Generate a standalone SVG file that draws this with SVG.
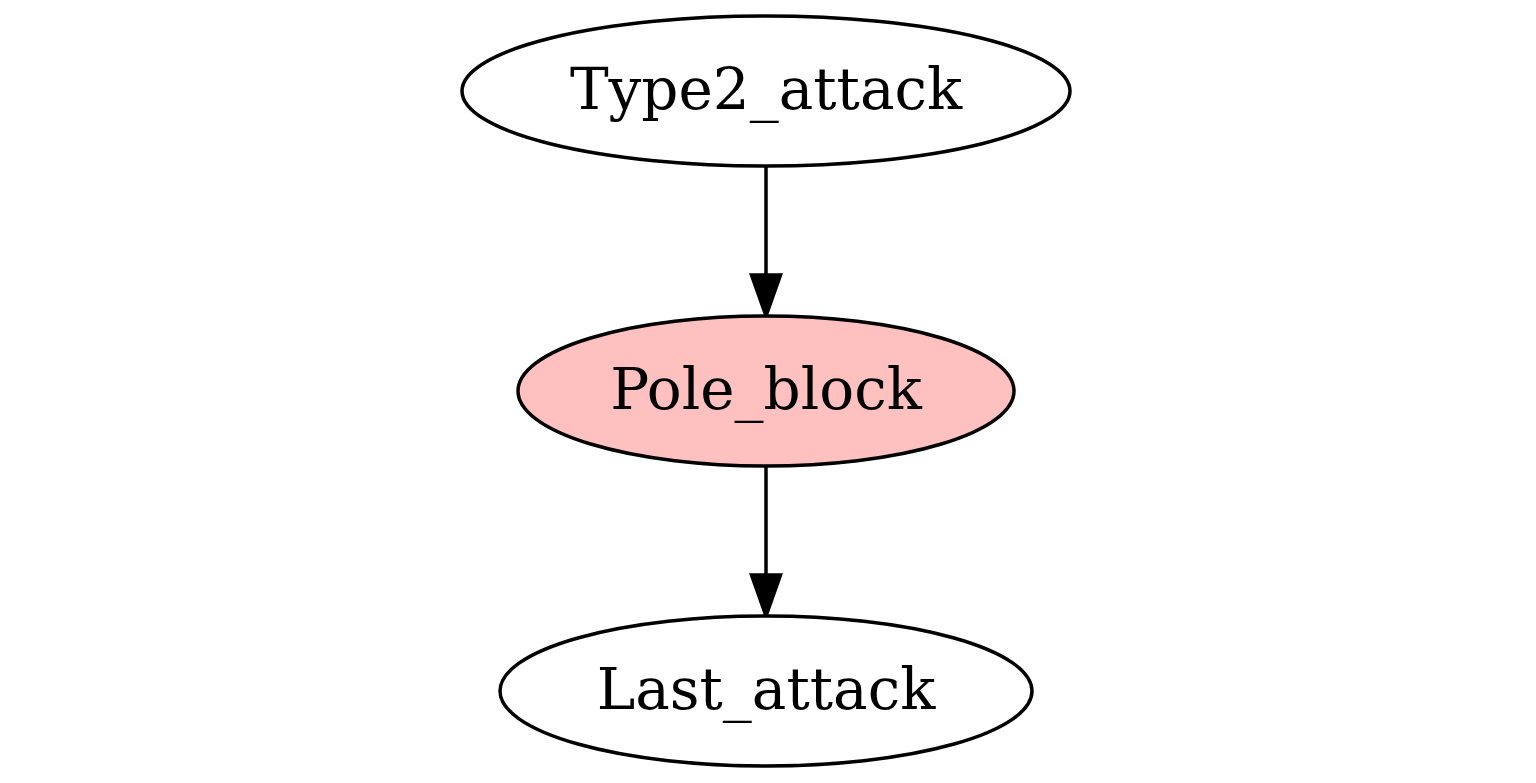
<svg xmlns="http://www.w3.org/2000/svg" width="1536" height="783" viewBox="0 0 1536 783">
<style>
.node ellipse{stroke:#000;stroke-width:3.5}
.node text{font-family:"DejaVu Serif","Liberation Serif",serif;font-size:58px;text-anchor:middle;fill:#000}
.edge line{stroke:#000;stroke-width:3.5}
.edge polygon{fill:#000;stroke:#000;stroke-width:3.5}
</style>
<rect width="1536" height="783" fill="#fff"/>
<g id="edges">
<g class="edge" id="e1"><line x1="766" y1="166" x2="766" y2="275"/><polygon points="751.5,275 780.5,275 766,316"/></g>
<g class="edge" id="e2"><line x1="766" y1="466" x2="766" y2="575"/><polygon points="751.5,575 780.5,575 766,616"/></g>
</g>
<g class="node" id="Type2_attack"><ellipse cx="766" cy="91" rx="304" ry="75" fill="#fff"/><text x="766" y="109">Type2_attack</text></g>
<g class="node" id="Pole_block"><ellipse cx="766" cy="391" rx="248" ry="75" fill="#ffc0c0"/><text x="766" y="409">Pole_block</text></g>
<g class="node" id="Last_attack"><ellipse cx="766" cy="691" rx="266" ry="75" fill="#fff"/><text x="766" y="709">Last_attack</text></g>
</svg>
